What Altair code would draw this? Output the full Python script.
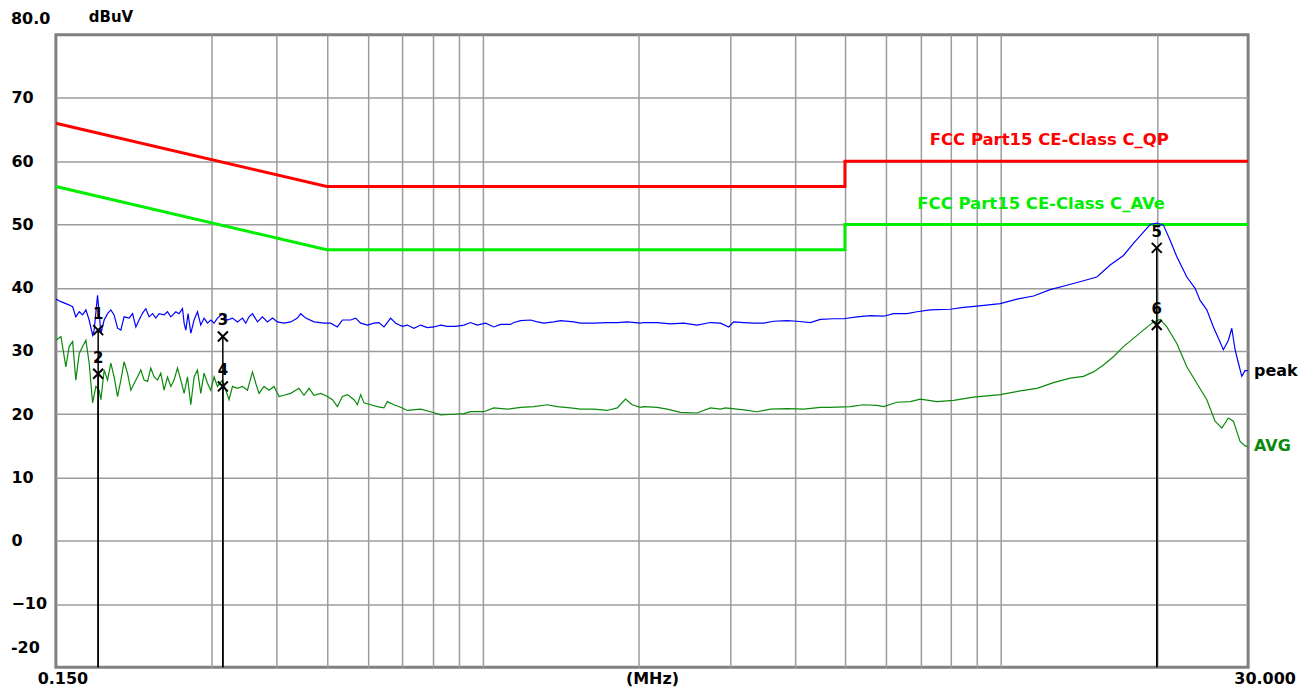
import altair as alt
import pandas as pd

FONT = "DejaVu Sans"

# ---------------- data ----------------
peak_freq = [0.1500, 0.1534, 0.1589, 0.1616, 0.1639, 0.1664, 0.1689, 0.1714, 0.1739, 0.1766,
             0.1778, 0.1805, 0.1818, 0.1832, 0.1859, 0.1887, 0.1915, 0.1943, 0.1973, 0.2002,
             0.2031, 0.2077, 0.2109, 0.2140, 0.2171, 0.2205, 0.2237, 0.2270, 0.2305, 0.2339,
             0.2373, 0.2426, 0.2463, 0.2500, 0.2556, 0.2593, 0.2633, 0.2652, 0.2672, 0.2699,
             0.2732, 0.2772, 0.2814, 0.2856, 0.2898, 0.2942, 0.2986, 0.3030, 0.3076, 0.3145,
             0.3215, 0.3288, 0.3361, 0.3437, 0.3488, 0.3539, 0.3593, 0.3674, 0.3756, 0.3840,
             0.3927, 0.4015, 0.4134, 0.4259, 0.4388, 0.4453, 0.4553, 0.4724, 0.4938, 0.5087,
             0.5241, 0.5358, 0.5560, 0.5684, 0.5812, 0.5988, 0.6166, 0.6304, 0.6446, 0.6640,
             0.6789, 0.6995, 0.7152, 0.7364, 0.7587, 0.7816, 0.8048, 0.8291, 0.8542, 0.8862,
             0.9195, 0.9473, 0.9759, 1.0125, 1.0505, 1.0823, 1.1314, 1.1481, 1.1828, 1.2365,
             1.2739, 1.3117, 1.3713, 1.4127, 1.4987, 1.5439, 1.6379, 1.7383, 1.8173, 1.8999,
             2.0154, 2.0451, 2.1705, 2.3025, 2.4426, 2.5923, 2.7501, 2.8750, 2.9829, 3.0500,
             3.1884, 3.3333, 3.4847, 3.6429, 3.8663, 4.0419, 4.2878, 4.4825, 4.7555, 4.9713,
             5.2763, 5.5974, 5.9379, 6.2076, 6.5880, 6.8873, 7.3059, 7.9850, 8.4707, 8.9901,
             9.9704, 10.738, 11.559, 12.449, 13.407, 14.433, 15.318, 16.250, 17.240, 18.021,
             18.840, 19.410, 19.997, 20.591, 21.213, 21.854, 22.846, 23.704, 24.236, 24.968,
             25.710, 26.287, 26.877, 27.481, 27.900, 28.312, 28.730, 29.167, 29.598, 30.0]
peak_db = [38.2, 37.8, 37.3, 37.0, 35.4, 36.2, 35.7, 36.5, 34.9, 32.5,
           33.3, 38.8, 36.0, 32.8, 34.9, 35.9, 36.5, 35.7, 33.6, 33.3,
           35.4, 35.2, 35.9, 33.8, 34.9, 36.0, 36.7, 35.4, 35.9, 35.2,
           35.9, 35.7, 36.2, 35.4, 36.2, 35.9, 36.7, 34.4, 33.3, 35.9,
           32.8, 34.9, 36.2, 34.1, 35.2, 34.4, 34.9, 34.4, 35.2, 35.9,
           34.9, 35.2, 34.6, 35.2, 34.4, 35.4, 35.9, 34.6, 35.4, 34.6,
           35.2, 34.6, 34.4, 34.6, 35.2, 35.9, 35.2, 34.6, 34.4, 34.4,
           33.8, 34.9, 34.9, 35.2, 34.4, 34.1, 34.4, 34.5, 33.8, 35.2,
           34.4, 33.9, 34.1, 33.6, 34.1, 33.7, 33.8, 34.1, 33.9, 33.9,
           34.1, 34.5, 34.1, 34.4, 33.8, 34.2, 34.2, 34.5, 34.8, 34.9,
           34.6, 34.4, 34.6, 34.8, 34.6, 34.4, 34.4, 34.5, 34.5, 34.6,
           34.4, 34.5, 34.5, 34.3, 34.4, 34.1, 34.5, 34.4, 33.8, 34.6,
           34.5, 34.4, 34.4, 34.7, 34.8, 34.7, 34.5, 35.0, 35.1, 35.1,
           35.4, 35.6, 35.5, 35.9, 35.9, 36.2, 36.5, 36.6, 36.9, 37.1,
           37.5, 38.2, 38.7, 39.7, 40.4, 41.1, 41.7, 43.6, 45.1, 47.0,
           48.8, 50.0, 50.2, 49.9, 47.5, 44.9, 41.7, 39.9, 38.0, 36.5,
           33.8, 32.0, 30.2, 31.7, 33.6, 30.2, 28.1, 26.0, 26.9, 26.9]

avg_freq = [0.1500, 0.1534, 0.1568, 0.1591, 0.1616, 0.1639, 0.1664, 0.1689, 0.1714, 0.1739,
            0.1766, 0.1792, 0.1818, 0.1832, 0.1859, 0.1887, 0.1915, 0.1943, 0.1973, 0.2002,
            0.2031, 0.2062, 0.2093, 0.2124, 0.2156, 0.2188, 0.2220, 0.2254, 0.2287, 0.2321,
            0.2356, 0.2391, 0.2426, 0.2463, 0.2500, 0.2536, 0.2575, 0.2613, 0.2652, 0.2692,
            0.2732, 0.2772, 0.2814, 0.2856, 0.2898, 0.2942, 0.2986, 0.3030, 0.3076, 0.3145,
            0.3191, 0.3238, 0.3288, 0.3361, 0.3437, 0.3514, 0.3593, 0.3646, 0.3700, 0.3783,
            0.3868, 0.3955, 0.4044, 0.4134, 0.4259, 0.4419, 0.4518, 0.4620, 0.4724, 0.4866,
            0.5013, 0.5126, 0.5241, 0.5358, 0.5479, 0.5642, 0.5727, 0.5812, 0.5898, 0.6076,
            0.6260, 0.6446, 0.6544, 0.6738, 0.6942, 0.7152, 0.7587, 0.7931, 0.8291, 0.8796,
            0.9195, 0.9473, 1.0049, 1.0505, 1.1150, 1.1828, 1.2548, 1.3317, 1.3922, 1.4769,
            1.5439, 1.6379, 1.7383, 1.8173, 1.8857, 1.9427, 2.0154, 2.0451, 2.1705, 2.2690,
            2.4071, 2.5923, 2.7501, 2.8750, 2.9396, 3.1884, 3.3839, 3.5898, 3.8663, 4.1621,
            4.4825, 4.6775, 5.1213, 5.4330, 5.7660, 5.9379, 6.3020, 6.6851, 6.9887, 7.5266,
            8.1029, 8.8557, 9.9704, 10.896, 11.735, 12.633, 13.605, 14.433, 15.087, 15.772,
            16.488, 17.240, 18.021, 18.840, 19.697, 20.291, 20.904, 21.854, 22.846, 23.883,
            24.968, 25.905, 26.688, 27.481, 28.100, 28.527, 28.948, 29.598, 30.0]
avg_db = [31.7, 32.3, 27.5, 30.7, 31.5, 25.4, 29.6, 30.7, 31.7, 28.1,
          21.8, 24.4, 23.8, 22.3, 27.0, 25.4, 28.1, 25.9, 22.8, 25.4,
          28.3, 26.5, 23.8, 24.9, 25.9, 27.0, 25.4, 25.2, 27.3, 25.9,
          25.4, 26.5, 23.8, 25.9, 24.4, 25.4, 27.3, 25.4, 23.3, 25.9,
          21.5, 25.9, 27.0, 23.3, 26.5, 24.9, 23.8, 25.9, 24.4, 25.4,
          23.8, 22.3, 24.4, 24.1, 24.4, 23.8, 26.7, 24.9, 23.3, 24.4,
          23.8, 24.4, 22.8, 23.0, 23.3, 24.1, 23.0, 24.1, 23.0, 23.3,
          22.8, 22.3, 21.2, 22.8, 23.1, 22.3, 21.5, 23.1, 21.8, 21.5,
          21.2, 21.0, 22.0, 21.5, 21.1, 20.6, 20.8, 20.4, 19.9, 20.0,
          20.1, 20.4, 20.4, 21.0, 20.8, 21.1, 21.2, 21.5, 21.2, 21.0,
          20.8, 20.8, 20.6, 21.0, 22.4, 21.5, 21.1, 21.2, 21.1, 20.8,
          20.3, 20.2, 21.0, 20.8, 21.0, 20.7, 20.4, 20.8, 20.9, 20.8,
          21.1, 21.1, 21.2, 21.5, 21.4, 21.2, 21.9, 22.0, 22.4, 22.0,
          22.2, 22.7, 23.1, 23.7, 24.1, 25.0, 25.7, 26.0, 26.7, 27.8,
          29.1, 30.7, 32.0, 33.3, 34.6, 35.0, 33.8, 31.2, 27.5, 24.9,
          22.3, 18.9, 17.8, 19.4, 18.9, 17.3, 15.7, 15.0, 14.9]

qp_limit_freq = [0.15, 0.5, 5.0, 5.0, 30.0]
qp_limit_db = [66, 56, 56, 60, 60]
av_limit_freq = [0.15, 0.5, 5.0, 5.0, 30.0]
av_limit_db = [56, 46, 46, 50, 50]

limit_label_text = ["FCC Part15 CE-Class C_QP", "FCC Part15 CE-Class C_AVe"]
limit_label_freq = [12.4, 11.96]
limit_label_db = [63.3, 53.2]
limit_label_color = ["#ff0000", "#00ee00"]

marker_no = ["1", "2", "3", "4", "5", "6"]
marker_freq = [0.181, 0.181, 0.315, 0.315, 19.99, 19.99]
marker_db = [33.3, 26.4, 32.3, 24.4, 46.3, 34.1]

trace_label_text = ["peak", "AVG"]
trace_label_color = ["#000000", "#0a8a0a"]

x_grid = [0.3, 0.4, 0.5, 0.6, 0.7, 0.8, 0.9, 1, 2, 3, 4, 5, 6, 7, 8, 9, 10, 20]
y_ticks = [70, 60, 50, 40, 30, 20, 10, 0, -10]
x_end_labels = ["0.150", "30.000"]
x_end_values = [0.15, 30.0]

# ---------------- tables ----------------
peak_df = pd.DataFrame({"f": peak_freq, "db": peak_db})
avg_df = pd.DataFrame({"f": avg_freq, "db": avg_db})
qp_df = pd.DataFrame({"f": qp_limit_freq, "db": qp_limit_db, "i": range(len(qp_limit_freq))})
av_df = pd.DataFrame({"f": av_limit_freq, "db": av_limit_db, "i": range(len(av_limit_freq))})
lab_df = pd.DataFrame({"f": limit_label_freq, "db": limit_label_db,
                       "t": limit_label_text, "c": limit_label_color})
mk_df = pd.DataFrame({"f": marker_freq, "db": marker_db, "n": marker_no, "bottom": [-20] * 6})
end_df = pd.DataFrame({"f": [peak_freq[-1], avg_freq[-1]], "db": [peak_db[-1], avg_db[-1]],
                       "t": trace_label_text, "c": trace_label_color})
dummy = pd.DataFrame({"a": [0]})

W, H = 1195, 634
GRID = "#9c9c9c"

xscale = alt.Scale(type="log", domain=[0.15, 30], nice=False)
yscale = alt.Scale(domain=[-20, 80], nice=False, zero=False)
x_axis = alt.Axis(values=x_grid, grid=True, labels=False, ticks=False, domain=False,
                  title="(MHz)", titleFont=FONT, titleFontSize=16, titleFontWeight="bold",
                  titleColor="black", titlePadding=3, gridColor=GRID, gridWidth=1.5)
y_axis = alt.Axis(values=y_ticks, grid=True, labels=True, ticks=False, tickSize=0, domain=False,
                  title=None, labelAlign="left", labelPadding=45, labelBaseline="middle",
                  labelFont=FONT, labelFontSize=16, labelFontWeight="bold", labelColor="black",
                  gridColor=GRID, gridWidth=1.5)


def X(field="f"):
    return alt.X(field, type="quantitative", scale=xscale, axis=x_axis)


def Y(field="db"):
    return alt.Y(field, type="quantitative", scale=yscale, axis=y_axis)


qp_line = alt.Chart(qp_df).mark_line(color="#ff0000", strokeWidth=3).encode(
    x=X(), y=Y(), order="i:Q")
av_line = alt.Chart(av_df).mark_line(color="#00ee00", strokeWidth=3).encode(
    x=X(), y=Y(), order="i:Q")
lim_text = alt.Chart(lab_df).mark_text(font=FONT, fontSize=16.5, fontWeight="bold",
                                       align="center", baseline="middle").encode(
    x=X(), y=Y(), text="t:N", color=alt.Color("c:N", scale=None))

peak_line = alt.Chart(peak_df).mark_line(color="#0000ff", strokeWidth=1.2).encode(x=X(), y=Y())
avg_line = alt.Chart(avg_df).mark_line(color="#0a8a0a", strokeWidth=1.2).encode(x=X(), y=Y())

mk_rule = alt.Chart(mk_df).mark_rule(color="black", strokeWidth=1.5).encode(
    x=X(), y=Y(), y2="bottom:Q")
mk_x = alt.Chart(mk_df).mark_point(shape="M-1,-1L1,1M1,-1L-1,1", size=100, filled=False,
                                   color="black", strokeWidth=2, opacity=1).encode(x=X(), y=Y())
mk_num = alt.Chart(mk_df).mark_text(font=FONT, fontSize=15, fontWeight="bold", color="black",
                                    dy=-16, baseline="middle").encode(x=X(), y=Y(), text="n:N")

end_text = alt.Chart(end_df).mark_text(font=FONT, fontSize=16, fontWeight="bold", align="left",
                                       baseline="middle", dx=6).encode(
    x=X(), y=Y(), text="t:N", color=alt.Color("c:N", scale=None))

xl0 = alt.Chart(pd.DataFrame({"f": [x_end_values[0]], "t": [x_end_labels[0]]})).mark_text(
    font=FONT, fontSize=16, fontWeight="bold", align="center", baseline="middle", dx=7
).encode(x=X(), y=alt.value(H + 12), text="t:N")
xl1 = alt.Chart(pd.DataFrame({"f": [x_end_values[1]], "t": [x_end_labels[1]]})).mark_text(
    font=FONT, fontSize=16, fontWeight="bold", align="center", baseline="middle", dx=17
).encode(x=X(), y=alt.value(H + 12), text="t:N")

y_top = alt.Chart(dummy).mark_text(text="80.0", font=FONT, fontSize=16, fontWeight="bold",
                                   align="left", baseline="middle").encode(
    x=alt.value(-45), y=alt.value(-16))
y_bot = alt.Chart(dummy).mark_text(text="-20", font=FONT, fontSize=16, fontWeight="bold",
                                   align="left", baseline="middle").encode(
    x=alt.value(-45), y=alt.value(H - 19))
unit = alt.Chart(dummy).mark_text(text="dBuV", font=FONT, fontSize=15, fontWeight="bold",
                                  align="left", baseline="middle").encode(
    x=alt.value(33), y=alt.value(-18))

chart = alt.layer(
    qp_line, av_line, lim_text, avg_line, peak_line, mk_rule, mk_x, mk_num, end_text,
    xl0, xl1, y_top, y_bot, unit
).properties(
    width=W, height=H,
    autosize=alt.AutoSizeParams(type="none"),
    padding={"left": 48, "top": 26, "right": 50, "bottom": 25},
    background="white",
).configure_view(stroke="#808080", strokeWidth=3)

chart.save("out.html", embed_options={"renderer": "svg", "actions": False})
